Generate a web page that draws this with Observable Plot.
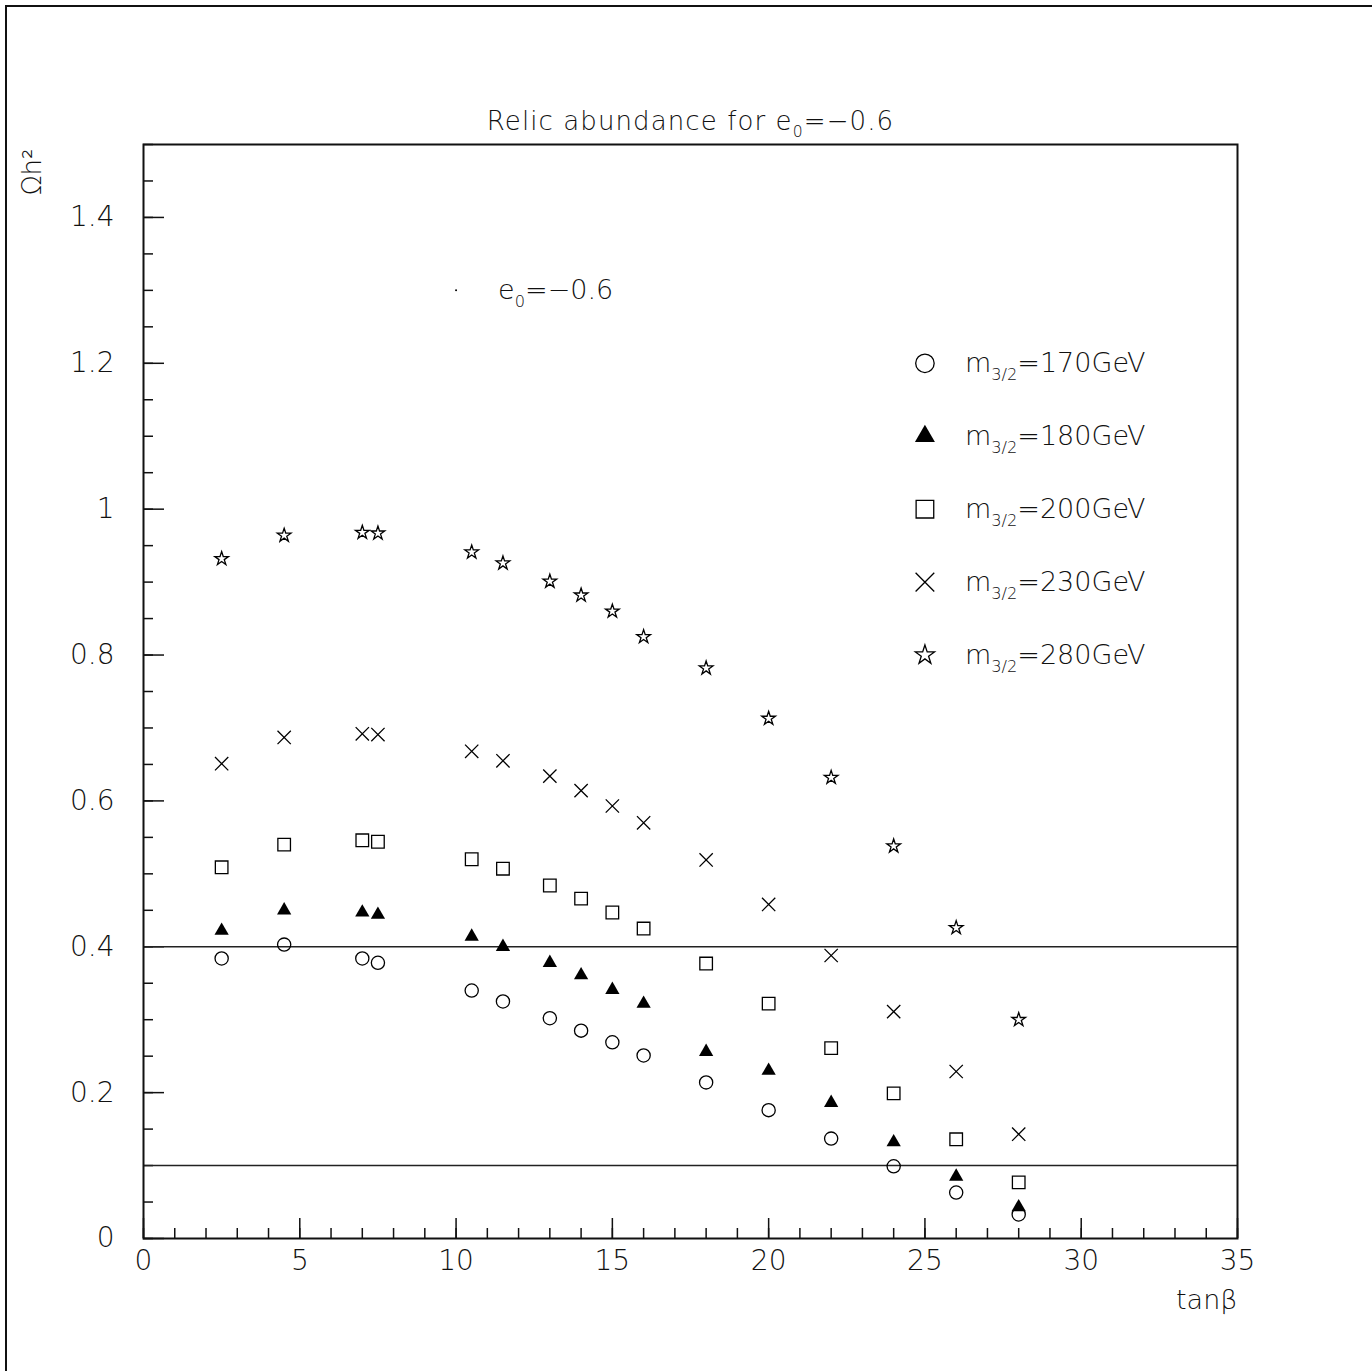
<!DOCTYPE html>
<html><head><meta charset="utf-8">
<script src="https://cdn.jsdelivr.net/npm/d3@7"></script>
<script src="https://cdn.jsdelivr.net/npm/@observablehq/plot@0.6"></script>
<style>
body{margin:0;background:#fff;}
#wrap{position:relative;width:1372px;height:1371px;overflow:hidden;}
#edge{position:absolute;left:5px;top:5px;width:2000px;height:2000px;border-left:2px solid #111;border-top:2px solid #111;pointer-events:none;}
</style></head><body><div id="wrap"><div id="chart"></div><div id="edge"></div></div>
<script>
// ---- data ----
const tanBeta = [2.5, 4.5, 7, 7.5, 10.5, 11.5, 13, 14, 15, 16, 18, 20, 22, 24, 26, 28];
const omega170 = [0.384, 0.403, 0.384, 0.378, 0.340, 0.325, 0.302, 0.285, 0.269, 0.251, 0.214, 0.176, 0.137, 0.099, 0.063, 0.033];
const omega180 = [0.422, 0.450, 0.447, 0.444, 0.414, 0.400, 0.378, 0.361, 0.341, 0.322, 0.256, 0.230, 0.186, 0.132, 0.085, 0.043];
const omega200 = [0.509, 0.540, 0.546, 0.544, 0.520, 0.507, 0.484, 0.466, 0.447, 0.425, 0.377, 0.322, 0.261, 0.199, 0.136, 0.077];
const omega230 = [0.651, 0.687, 0.692, 0.691, 0.668, 0.655, 0.634, 0.614, 0.593, 0.570, 0.519, 0.458, 0.388, 0.311, 0.229, 0.143];
const omega280 = [0.932, 0.964, 0.968, 0.967, 0.941, 0.926, 0.901, 0.882, 0.860, 0.825, 0.782, 0.713, 0.632, 0.538, 0.426, 0.300];
const seriesLabels = ["m_{3/2}=170GeV", "m_{3/2}=180GeV", "m_{3/2}=200GeV", "m_{3/2}=230GeV", "m_{3/2}=280GeV"];
const seriesSymbols = ["circle", "triangle", "square", "times", "star"];
const referenceLevels = [0.4, 0.1];
const xTicks = [0, 5, 10, 15, 20, 25, 30, 35];
const yTicks = [0, 0.2, 0.4, 0.6, 0.8, 1, 1.2, 1.4];
const titleText = "Relic abundance for e_{0}=−0.6";
const noteText = "e_{0}=−0.6";
const notePoint = [{x: 10, y: 1.3}];
const xLabel = "tanβ";
const yLabel = "Ωh²";

// ---- layout / style ----
const W = 1372, H = 1371, mL = 143, mR = 135, mT = 144, mB = 133;
const plotW = W - mL - mR, plotH = H - mT - mB;
const FONT = "'DejaVu Sans', 'Liberation Sans', sans-serif";
const symR = {circle: 6.6, triangle: 5.3, square: 7.1, times: 6.1, star: 4.3};
const legendScale = 1.4;
const legendX = 25, legendTop = 1.2, legendStep = 0.1;
const xMinor = d3.range(0, 35.01, 1);
const yMinor = d3.range(0, 1.5001, 0.05);

const series = [omega170, omega180, omega200, omega230, omega280].map((v, k) => ({values: v, symbol: seriesSymbols[k], label: seriesLabels[k]}));
const dotStyle = s => s === "triangle" ? {fill: "#000", stroke: "none"} : {fill: "none", stroke: "#000", strokeWidth: 1.3};

const chart = Plot.plot({
  width: W, height: H, marginLeft: mL, marginRight: mR, marginTop: mT, marginBottom: mB,
  style: {fontFamily: FONT, fontSize: "28px", color: "#111", background: "white", fontWeight: 200},
  x: {domain: [0, 35]},
  y: {domain: [0, 1.5]},
  marks: [
    Plot.axisX({ticks: xTicks, tickSize: 0, tickPadding: 12, label: null, fontSize: 28, tickFormat: d => String(d)}),
    Plot.axisY({ticks: yTicks, tickSize: 0, tickPadding: 29, label: null, fontSize: 28, tickFormat: d => String(d)}),
    Plot.tickY(yMinor, {y: d => d, insetRight: plotW - 10, strokeWidth: 1.5, stroke: "#111"}),
    Plot.tickY(yTicks, {y: d => d, insetRight: plotW - 21, strokeWidth: 1.5, stroke: "#111"}),
    Plot.tickX(xMinor, {x: d => d, insetTop: plotH - 10, strokeWidth: 1.5, stroke: "#111"}),
    Plot.tickX(xTicks, {x: d => d, insetTop: plotH - 20, strokeWidth: 1.5, stroke: "#111"}),
    Plot.ruleY(referenceLevels, {strokeWidth: 1.4, stroke: "#222"}),
    Plot.frame({strokeWidth: 2, stroke: "#111"}),
    ...series.map(s => Plot.dot(s.values, {x: (d, i) => tanBeta[i], y: d => d, symbol: s.symbol, r: symR[s.symbol], ...dotStyle(s.symbol)})),
    ...series.map((s, k) => Plot.dot([s], {x: () => legendX, y: () => legendTop - k * legendStep, symbol: s.symbol, r: symR[s.symbol] * legendScale, ...dotStyle(s.symbol)})),
    Plot.text(series, {x: () => legendX, y: (d, i) => legendTop - i * legendStep, text: d => d.label, dx: 40, textAnchor: "start", lineAnchor: "middle", fontSize: 27}),
    Plot.dot(notePoint, {x: "x", y: "y", r: 1, fill: "#000"}),
    Plot.text(notePoint, {x: "x", y: "y", text: () => noteText, dx: 42, textAnchor: "start", lineAnchor: "middle", fontSize: 27}),
    Plot.text([titleText], {frameAnchor: "top", dy: -15, lineAnchor: "bottom", fontSize: 26}),
    Plot.text([yLabel], {frameAnchor: "top-left", rotate: -90, textAnchor: "end", lineAnchor: "bottom", dx: -103, dy: 4, fontSize: 26}),
    Plot.text([xLabel], {frameAnchor: "bottom-right", textAnchor: "end", lineAnchor: "bottom", dy: 70, fontSize: 27})
  ]
});
document.getElementById("chart").appendChild(chart);

// sub/superscript rendering for labels written as x_{..} / x^{..}
d3.select(chart).selectAll("text").each(function () {
  const t = this.textContent;
  if (!/[_^]\{/.test(t)) return;
  const fs = parseFloat(getComputedStyle(this).fontSize) || 27;
  if (t === titleText) d3.select(this).attr("letter-spacing", "1.1px");
  const parts = [];
  const re = /([_^])\{([^}]*)\}/g;
  let last = 0, m;
  while ((m = re.exec(t))) {
    if (m.index > last) parts.push({s: t.slice(last, m.index), k: ""});
    parts.push({s: m[2], k: m[1]});
    last = re.lastIndex;
  }
  if (last < t.length) parts.push({s: t.slice(last), k: ""});
  const el = d3.select(this);
  el.text(null);
  let shift = 0;
  for (const p of parts) {
    const target = p.k === "_" ? 0.3 * fs : p.k === "^" ? -0.4 * fs : 0;
    const ts = el.append("tspan").text(p.s).attr("dy", target - shift);
    if (p.k) ts.attr("font-size", (0.6 * fs) + "px");
    shift = target;
  }
});
</script></body></html>
